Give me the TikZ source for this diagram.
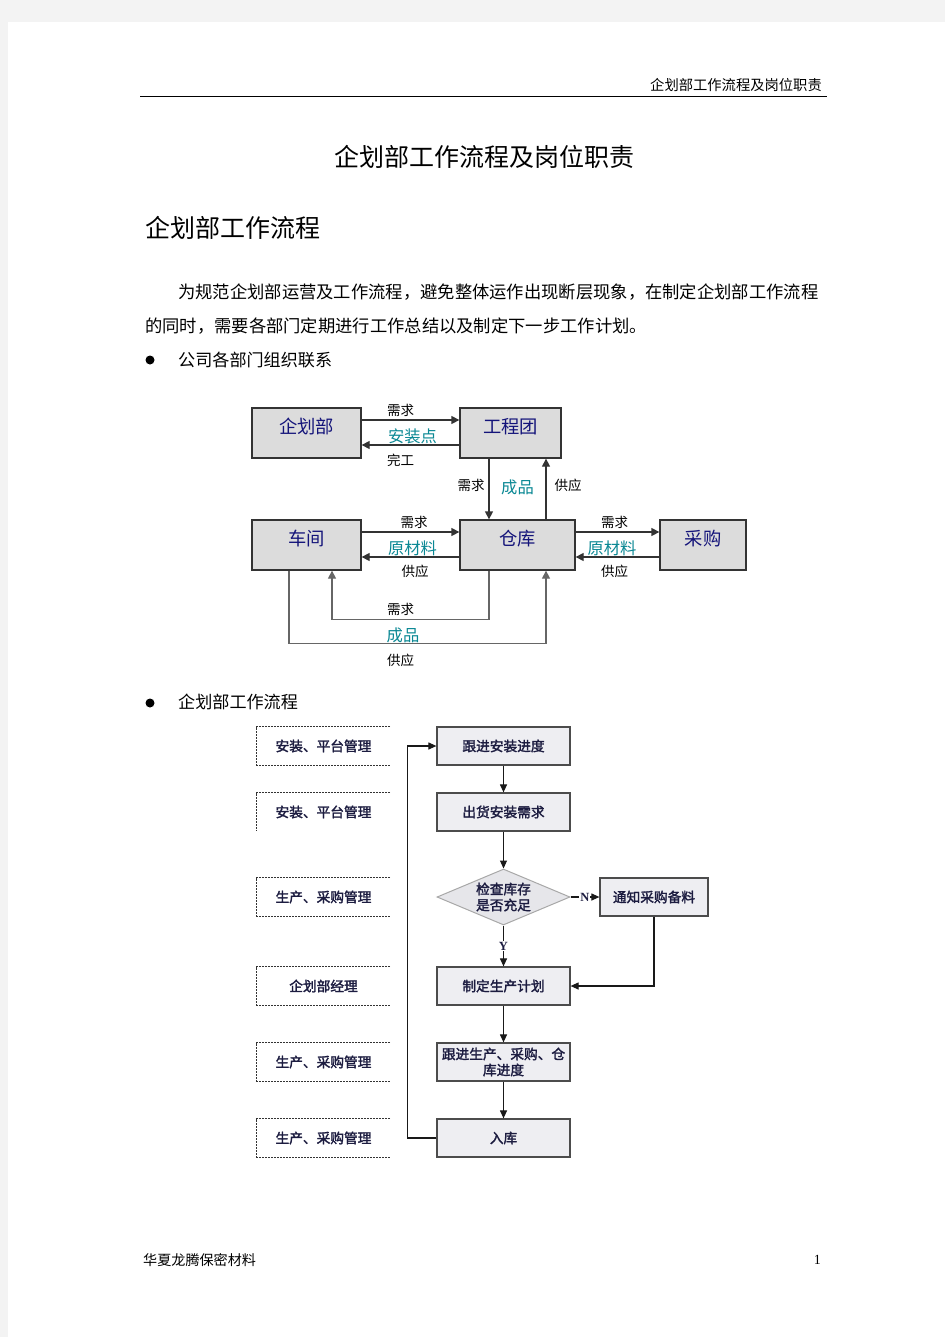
\documentclass[tikz,border=0pt]{standalone}
\usepackage{fontspec}
\setmainfont{Noto Sans CJK SC}[AutoFakeBold=2]
\newfontfamily\numfont{Liberation Serif}
\usetikzlibrary{arrows.meta}
\usetikzlibrary{calc}
\usetikzlibrary{shapes.geometric}
\definecolor{pagegray}{HTML}{F3F3F3}
\definecolor{boxgray}{HTML}{DCDCDC}
\definecolor{deptblue}{HTML}{14147A}
\definecolor{labelteal}{HTML}{0A8894}
\definecolor{flowfill}{HTML}{EEEEF2}
\definecolor{flowtext}{HTML}{1C1C40}
\definecolor{diafill}{HTML}{E6E6EA}
\definecolor{diaedge}{HTML}{A8A8A8}
\tikzset{
  pagetext/.style={inner sep=0pt, text=black},
  deptbox/.style={draw=black!80, fill=boxgray, line width=1.3pt, inner sep=0pt,
    minimum height=50pt, text height=14pt, text depth=13pt, text=deptblue,
    font=\fontsize{18.3}{20}\selectfont},
  deptarrow/.style={draw=black!80, line width=1.3pt, -{Triangle[length=8pt,width=8pt]}},
  looparrow/.style={draw=black!60, line width=1.3pt, -{Triangle[length=8pt,width=8pt]}},
  linklabel/.style={inner sep=0pt, font=\fontsize{13.5}{15}\selectfont},
  goodslabel/.style={inner sep=0pt, text=labelteal, font=\fontsize{16.3}{18}\selectfont},
  flowbox/.style={draw=black!70, fill=flowfill, line width=1.2pt, inner sep=0pt,
    minimum width=133pt, minimum height=38pt, text=flowtext, align=center,
    font=\bfseries\fontsize{13.7}{16}\selectfont},
  checkdia/.style={shape=diamond, draw=diaedge, fill=diafill, line width=1pt,
    inner sep=0pt, minimum width=133pt, minimum height=56pt},
  rolebox/.style={inner sep=0pt, minimum width=133pt, minimum height=38pt,
    text=flowtext, font=\bfseries\fontsize{13.7}{16}\selectfont},
  roleedge/.style={draw=black!80, line width=0.8pt, dash pattern=on 2pt off 1pt},
  flowarrow/.style={draw=black!90, line width=1.1pt, -{Triangle[length=8pt,width=7pt]}},
  ynlabel/.style={fill=white, inner sep=1pt, text=flowtext,
    font=\numfont\bfseries\fontsize{12.5}{13}\selectfont}
}
\begin{document}
\begin{tikzpicture}[x=1pt,y=-1pt]
    \newcommand{\figdeptrowa}{433}
    \newcommand{\figdeptrowb}{545}
    \newcommand{\figflowx}{503.5}
    \newcommand{\figrolex}{323.5}
    \useasboundingbox (0,0) rectangle (945,1337);
    \fill[pagegray] (0,0) rectangle (945,1337);
    \fill[white] (8,22) rectangle (945,1337);

    % page text
    \node[pagetext, anchor=east, font=\fontsize{14.3}{16}\selectfont] (hdr) at (822,85) {企划部工作流程及岗位职责};
    \draw[line width=0.8pt] (140,96) -- (827,96);
    \node[pagetext, font=\fontsize{25}{30}\selectfont] (title) at (484,157) {企划部工作流程及岗位职责};
    \node[pagetext, anchor=west, font=\fontsize{25}{30}\selectfont] (head) at (145,228) {企划部工作流程};
    \node[pagetext, anchor=west, font=\fontsize{17.3}{20}\selectfont] (parA) at (178,292) {为规范企划部运营及工作流程，避免整体运作出现断层现象，在制定企划部工作流程};
    \node[pagetext, anchor=west, font=\fontsize{17.3}{20}\selectfont] (parB) at (145,326) {的同时，需要各部门定期进行工作总结以及制定下一步工作计划。};
    \fill (150,360) circle (4.5);
    \node[pagetext, anchor=west, font=\fontsize{17.1}{20}\selectfont] (itemA) at (178,360) {公司各部门组织联系};
    \fill (150,703) circle (4.5);
    \node[pagetext, anchor=west, font=\fontsize{17.1}{20}\selectfont] (itemB) at (178,702) {企划部工作流程};
    \node[pagetext, anchor=west, font=\fontsize{14.1}{16}\selectfont] (foot) at (143,1260) {华夏龙腾保密材料};
    \node[pagetext, anchor=east, font=\numfont\fontsize{14}{16}\selectfont] (pgno) at (821,1260) {1};

    % departments
    \node[deptbox, minimum width=109pt] (qhb) at (306.5,\figdeptrowa) {企划部};
    \node[deptbox, minimum width=101pt] (gct) at (510.5,\figdeptrowa) {工程团};
    \node[deptbox, minimum width=109pt] (cj) at (306.5,\figdeptrowb) {车间};
    \node[deptbox, minimum width=115pt] (ck) at (517.5,\figdeptrowb) {仓库};
    \node[deptbox, minimum width=86pt] (cg) at (703,\figdeptrowb) {采购};

    \draw[deptarrow] ([yshift=13pt]qhb.east) -- ([yshift=13pt]gct.west);
    \draw[deptarrow] ([yshift=-12pt]gct.west) -- ([yshift=-12pt]qhb.east);
    \draw[deptarrow] ([xshift=-21.5pt]gct.south) -- ([xshift=-21.5pt]gct.south |- ck.north);
    \draw[deptarrow] ([xshift=28.5pt]ck.north) -- ([xshift=28.5pt]ck.north |- gct.south);
    \draw[deptarrow] ([yshift=13pt]cj.east) -- ([yshift=13pt]ck.west);
    \draw[deptarrow] ([yshift=-12pt]ck.west) -- ([yshift=-12pt]cj.east);
    \draw[deptarrow] ([yshift=13pt]ck.east) -- ([yshift=13pt]cg.west);
    \draw[deptarrow] ([yshift=-12pt]cg.west) -- ([yshift=-12pt]ck.east);
    \draw[looparrow] ([xshift=-28.5pt]ck.south) -- ++(0,49) -| ([xshift=25.5pt]cj.south);
    \draw[looparrow] ([xshift=-17.5pt]cj.south) -- ++(0,73) -| ([xshift=28.5pt]ck.south);

    \node[linklabel] (lqa) at (400.5,410) {需求};
    \node[goodslabel] (lqb) at (412.5,436) {安装点};
    \node[linklabel] (lqc) at (400.5,460) {完工};
    \node[linklabel] (lga) at (471,485) {需求};
    \node[goodslabel] (lgb) at (517.5,487) {成品};
    \node[linklabel] (lgc) at (568,485) {供应};
    \node[linklabel] (lca) at (414,522) {需求};
    \node[goodslabel] (lcb) at (412.5,548) {原材料};
    \node[linklabel] (lcc) at (415,571) {供应};
    \node[linklabel] (lpa) at (614.5,522) {需求};
    \node[goodslabel] (lpb) at (612,548) {原材料};
    \node[linklabel] (lpc) at (614.5,571) {供应};
    \node[linklabel] (lla) at (400.5,609) {需求};
    \node[goodslabel] (llb) at (403,635) {成品};
    \node[linklabel] (llc) at (400.5,660) {供应};

    % work flow
    \foreach \rowname/\rowy/\rowtext in {roleA/746/安装、平台管理, roleC/897/生产、采购管理,
        roleD/986/企划部经理, roleE/1062/生产、采购管理, roleF/1138/生产、采购管理} {
        \node[rolebox] (\rowname) at (\figrolex,\rowy) {\rowtext};
        \draw[roleedge] (\rowname.north east) -- (\rowname.north west) -- (\rowname.south west) -- (\rowname.south east);
    }
    \node[rolebox] (roleB) at (\figrolex,812) {安装、平台管理};
    \draw[roleedge] (roleB.north east) -- (roleB.north west) -- (roleB.south west);

    \node[flowbox] (trkA) at (\figflowx,746) {跟进安装进度};
    \node[flowbox] (ship) at (\figflowx,812) {出货安装需求};
    \node[checkdia] (chk) at (\figflowx,897) {};
    \node[rolebox, minimum width=0pt, minimum height=0pt, align=center] (chktxt) at (chk.center) {检查库存\\是否充足};
    \node[flowbox, minimum width=108pt] (buy) at (654,897) {通知采购备料};
    \node[flowbox] (plan) at (\figflowx,986) {制定生产计划};
    \node[flowbox] (trkB) at (\figflowx,1062) {跟进生产、采购、仓\\库进度};
    \node[flowbox] (stock) at (\figflowx,1138) {入库};

    \draw[flowarrow] (trkA) -- (ship);
    \draw[flowarrow] (ship) -- (chk);
    \draw[flowarrow] (chk.east) -- node[ynlabel] (nlab) {N} (buy.west);
    \draw[flowarrow] (chk.south) -- node[ynlabel] (ylab) {Y} (plan.north);
    \draw[flowarrow] (buy.south) |- (plan.east);
    \draw[flowarrow] (plan) -- (trkB);
    \draw[flowarrow] (trkB) -- (stock);
    \draw[flowarrow] (stock.west) -- ++(-29,0) |- (trkA.west);
\end{tikzpicture}
\end{document}
